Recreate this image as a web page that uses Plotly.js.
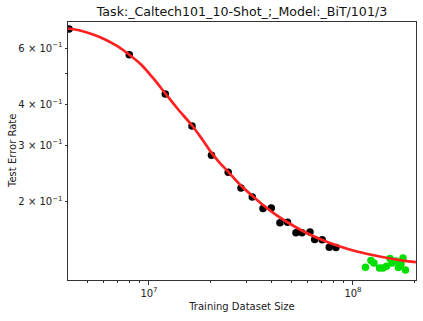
<!DOCTYPE html>
<html>
<head>
<meta charset="utf-8">
<script src="https://cdn.plot.ly/plotly-3.0.1.min.js"></script>
<style>
  html, body { margin: 0; padding: 0; background: #fff; }
  #plot { width: 423px; height: 321px; }
</style>
</head>
<body>
<div id="plot"></div>
<script>
// measured points (black), held-out points (green), fitted curve (red)
const trainSize = [4.055e6, 8.006e6, 1.202e7, 1.625e7, 2.025e7, 2.445e7, 2.825e7, 3.209e7, 3.622e7, 3.977e7,
  4.386e7, 4.776e7, 5.255e7, 5.623e7, 6.155e7, 6.492e7, 7.063e7, 7.653e7, 8.254e7];
const trainErr = [0.6876, 0.5721, 0.4319, 0.3436, 0.2787, 0.2467, 0.2206, 0.2068, 0.1907, 0.1911,
  0.1720, 0.1726, 0.1602, 0.1602, 0.1610, 0.1528, 0.1524, 0.1444, 0.1443];

const heldSize = [1.152e8, 1.225e8, 1.267e8, 1.349e8, 1.403e8, 1.460e8, 1.519e8, 1.553e8, 1.625e8,
  1.671e8, 1.719e8, 1.759e8, 1.809e8];
const heldErr = [0.1253, 0.1313, 0.1290, 0.1245, 0.1245, 0.1262, 0.1332, 0.1290, 0.1308,
  0.1249, 0.1281, 0.1337, 0.1227];

const fitSize = [4.01e6, 4.59e6, 5.32e6, 6.09e6, 6.97e6, 7.98e6, 9.14e6, 1.046e7, 1.198e7, 1.372e7,
  1.625e7, 1.819e7, 2.013e7, 2.228e7, 2.44e7, 2.825e7, 3.198e7, 3.622e7, 4.147e7, 4.749e7,
  5.497e7, 6.366e7, 7.374e7, 8.637e7, 1.023e8, 1.211e8, 1.435e8, 1.7e8, 2.037e8];
const fitErr = [0.690, 0.680, 0.661, 0.638, 0.609, 0.573, 0.5335, 0.4844, 0.435, 0.3908,
  0.3448, 0.3131, 0.2852, 0.2637, 0.2481, 0.2245, 0.2090, 0.1953, 0.1831, 0.1730,
  0.1640, 0.1565, 0.1505, 0.1452, 0.1406, 0.1371, 0.1342, 0.1318, 0.1299];

const yTicks = [0.2, 0.3, 0.4, 0.5, 0.6];
const yTickText = ['2 × 10<sup>−1</sup>', '3 × 10<sup>−1</sup>', '4 × 10<sup>−1</sup>', '', '6 × 10<sup>−1</sup>'];
const xTicks = [1e7, 1e8];
const xTickText = ['10<sup>7</sup>', '10<sup>8</sup>'];
const xMinor = [5e6, 6e6, 7e6, 8e6, 9e6, 2e7, 3e7, 4e7, 5e7, 6e7, 7e7, 8e7, 9e7, 2e8];

const traces = [
  {
    x: trainSize, y: trainErr, type: 'scatter', mode: 'markers',
    marker: { color: '#000', size: 7.5 }, showlegend: false
  },
  {
    x: heldSize, y: heldErr, type: 'scatter', mode: 'markers',
    marker: { color: '#00e000', size: 7.5 }, showlegend: false
  },
  {
    x: fitSize, y: fitErr, type: 'scatter', mode: 'lines',
    line: { color: '#ff2020', width: 2.7, shape: 'spline' }, showlegend: false
  }
];

const layout = {
  width: 423, height: 321,
  margin: { l: 68, r: 7, t: 22, b: 41 },
  paper_bgcolor: '#fff', plot_bgcolor: '#fff',
  font: { family: 'DejaVu Sans, sans-serif', color: '#222', size: 10 },
  title: {
    text: 'Task:_Caltech101_10-Shot_;_Model:_BiT/101/3',
    font: { size: 12.6, color: '#111' },
    x: 0.572, xanchor: 'center', y: 0.963, yanchor: 'middle'
  },
  xaxis: {
    type: 'log', range: [6.603, 8.309],
    tickmode: 'array', tickvals: xTicks, ticktext: xTickText,
    ticks: 'outside', ticklen: 3.5, tickcolor: '#333',
    minor: { tickmode: 'array', tickvals: xMinor, ticks: 'outside', ticklen: 2, tickcolor: '#333', showgrid: false },
    showgrid: false, zeroline: false,
    showline: true, mirror: true, linecolor: '#333', linewidth: 1,
    title: { text: 'Training Dataset Size', font: { size: 10 }, standoff: 5 }
  },
  yaxis: {
    type: 'log', range: [-0.942, -0.141],
    tickmode: 'array', tickvals: yTicks, ticktext: yTickText,
    ticks: 'outside', ticklen: 2.5, tickcolor: '#333',
    showgrid: false, zeroline: false,
    showline: true, mirror: true, linecolor: '#333', linewidth: 1
  },
  annotations: [{
    text: 'Test Error Rate', textangle: -90,
    xref: 'paper', yref: 'paper', x: -0.161, y: 0.5,
    xanchor: 'center', yanchor: 'middle', showarrow: false,
    font: { size: 10, color: '#222' }
  }]
};

Plotly.newPlot('plot', traces, layout, { staticPlot: true, displayModeBar: false });
</script>
</body>
</html>
